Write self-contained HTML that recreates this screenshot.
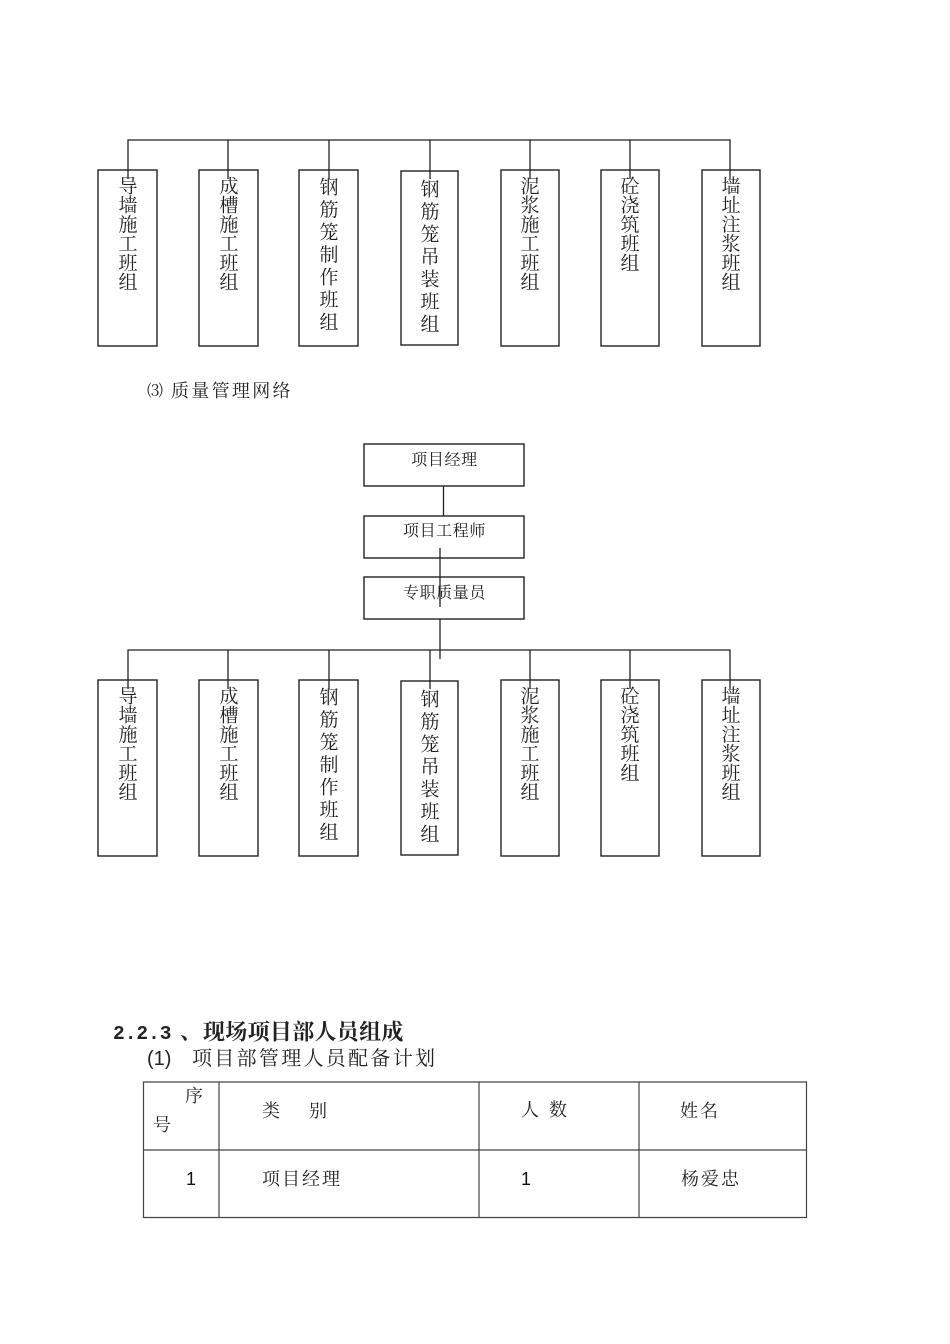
<!DOCTYPE html>
<html lang="zh">
<head>
<meta charset="utf-8">
<style>
html,body{margin:0;padding:0;background:#fff}
svg{display:block}
text{font-family:"Liberation Serif","Noto Serif CJK SC",serif;fill:#222}
.v{font-size:19px;text-anchor:middle}
.c{font-size:16px;text-anchor:middle;letter-spacing:.6px}
.t{font-size:18px;letter-spacing:2px}
.s{font-family:"Liberation Sans",sans-serif;font-size:18px;fill:#111}
.b rect{fill:none;stroke:#222;stroke-width:1.4}
.l path{fill:none;stroke:#222;stroke-width:1.3}
.g path{fill:none;stroke:#444;stroke-width:1.2}
</style>
</head>
<body>
<svg xmlns="http://www.w3.org/2000/svg" width="950" height="1344" viewBox="0 0 950 1344">
<g class="b">
<rect x="98" y="170" width="59" height="176"/>
<rect x="199" y="170" width="59" height="176"/>
<rect x="299" y="170" width="59" height="176"/>
<rect x="401" y="171" width="57" height="174"/>
<rect x="501" y="170" width="58" height="176"/>
<rect x="601" y="170" width="58" height="176"/>
<rect x="702" y="170" width="58" height="176"/>
<rect x="98" y="680" width="59" height="176"/>
<rect x="199" y="680" width="59" height="176"/>
<rect x="299" y="680" width="59" height="176"/>
<rect x="401" y="681" width="57" height="174"/>
<rect x="501" y="680" width="58" height="176"/>
<rect x="601" y="680" width="58" height="176"/>
<rect x="702" y="680" width="58" height="176"/>
<rect x="364" y="444" width="160" height="42"/>
<rect x="364" y="516" width="160" height="42"/>
<rect x="364" y="577" width="160" height="42"/>
</g>
<g class="l">
<path d="M128 179V140H730V179M228 140V179M329 140V179M430 140V179M530 140V179M630 140V179"/>
<path d="M128 689V650H730V689M228 650V689M329 650V689M430 650V689M530 650V689M630 650V689"/>
<path d="M443.500 486V516M440 548V607M440 619V659"/>
</g>
<g class="g">
<path d="M143.500 1082H806.500V1217.500H143.500ZM143.500 1150H806.500M219 1082V1217.500M479 1082V1217.500M639 1082V1217.500"/>
</g>

<text class="v" x="128 128 128 128 128 128" y="192.500 211.700 230.900 250.100 269.300 288.500">导墙施工班组</text>
<text class="v" x="229 229 229 229 229 229" y="192.500 211.700 230.900 250.100 269.300 288.500">成槽施工班组</text>
<text class="v" x="329 329 329 329 329 329 329" y="193.500 216 238.500 261 283.500 306 328.500">钢筋笼制作班组</text>
<text class="v" x="430 430 430 430 430 430 430" y="195.500 218 240.500 263 285.500 308 330.500">钢筋笼吊装班组</text>
<text class="v" x="530 530 530 530 530 530" y="192.500 211.700 230.900 250.100 269.300 288.500">泥浆施工班组</text>
<text class="v" x="630 630 630 630 630" y="192.500 211.700 230.900 250.100 269.500">砼浇筑班组</text>
<text class="v" x="731 731 731 731 731 731" y="192.500 211.700 230.900 250.100 269.300 288.500">墙址注浆班组</text>

<text class="v" x="128 128 128 128 128 128" y="702.500 721.700 740.900 760.100 779.300 798.500">导墙施工班组</text>
<text class="v" x="229 229 229 229 229 229" y="702.500 721.700 740.900 760.100 779.300 798.500">成槽施工班组</text>
<text class="v" x="329 329 329 329 329 329 329" y="703.500 726 748.500 771 793.500 816 838.500">钢筋笼制作班组</text>
<text class="v" x="430 430 430 430 430 430 430" y="705.500 728 750.500 773 795.500 818 840.500">钢筋笼吊装班组</text>
<text class="v" x="530 530 530 530 530 530" y="702.500 721.700 740.900 760.100 779.300 798.500">泥浆施工班组</text>
<text class="v" x="630 630 630 630 630" y="702.500 721.700 740.900 760.100 779.500">砼浇筑班组</text>
<text class="v" x="731 731 731 731 731 731" y="702.500 721.700 740.900 760.100 779.300 798.500">墙址注浆班组</text>

<text x="147" y="396" font-size="16">⑶</text>
<text x="171" y="397" font-size="18" letter-spacing="2.300">质量管理网络</text>

<text class="c" x="444.500" y="465">项目经理</text>
<text class="c" x="444.500" y="536">项目工程师</text>
<text class="c" x="444.500" y="598">专职质量员</text>

<text x="113" y="1039" style="font-family:'Liberation Mono',monospace" font-size="19.500" font-weight="700">2.2.3</text>
<text x="180" y="1039" font-size="22" font-weight="700">、</text>
<text x="203" y="1039.500" font-size="22" font-weight="700" letter-spacing=".3">现场项目部人员组成</text>
<text x="147" y="1065" style="font-family:'Liberation Sans',sans-serif" font-size="20">(1)</text>
<text x="192" y="1065" font-size="20" letter-spacing="2.300">项目部管理人员配备计划</text>

<text class="t" x="185" y="1102">序</text>
<text class="t" x="153" y="1131">号</text>
<text class="t" x="262" y="1117">类</text>
<text class="t" x="309" y="1117">别</text>
<text class="t" x="521" y="1116">人</text>
<text class="t" x="549" y="1116">数</text>
<text class="t" x="680" y="1117" letter-spacing="4">姓名</text>
<text class="s" x="186" y="1185">1</text>
<text class="t" x="262" y="1185">项目经理</text>
<text class="s" x="521" y="1185">1</text>
<text class="t" x="681" y="1185">杨爱忠</text>
</svg>
</body>
</html>
